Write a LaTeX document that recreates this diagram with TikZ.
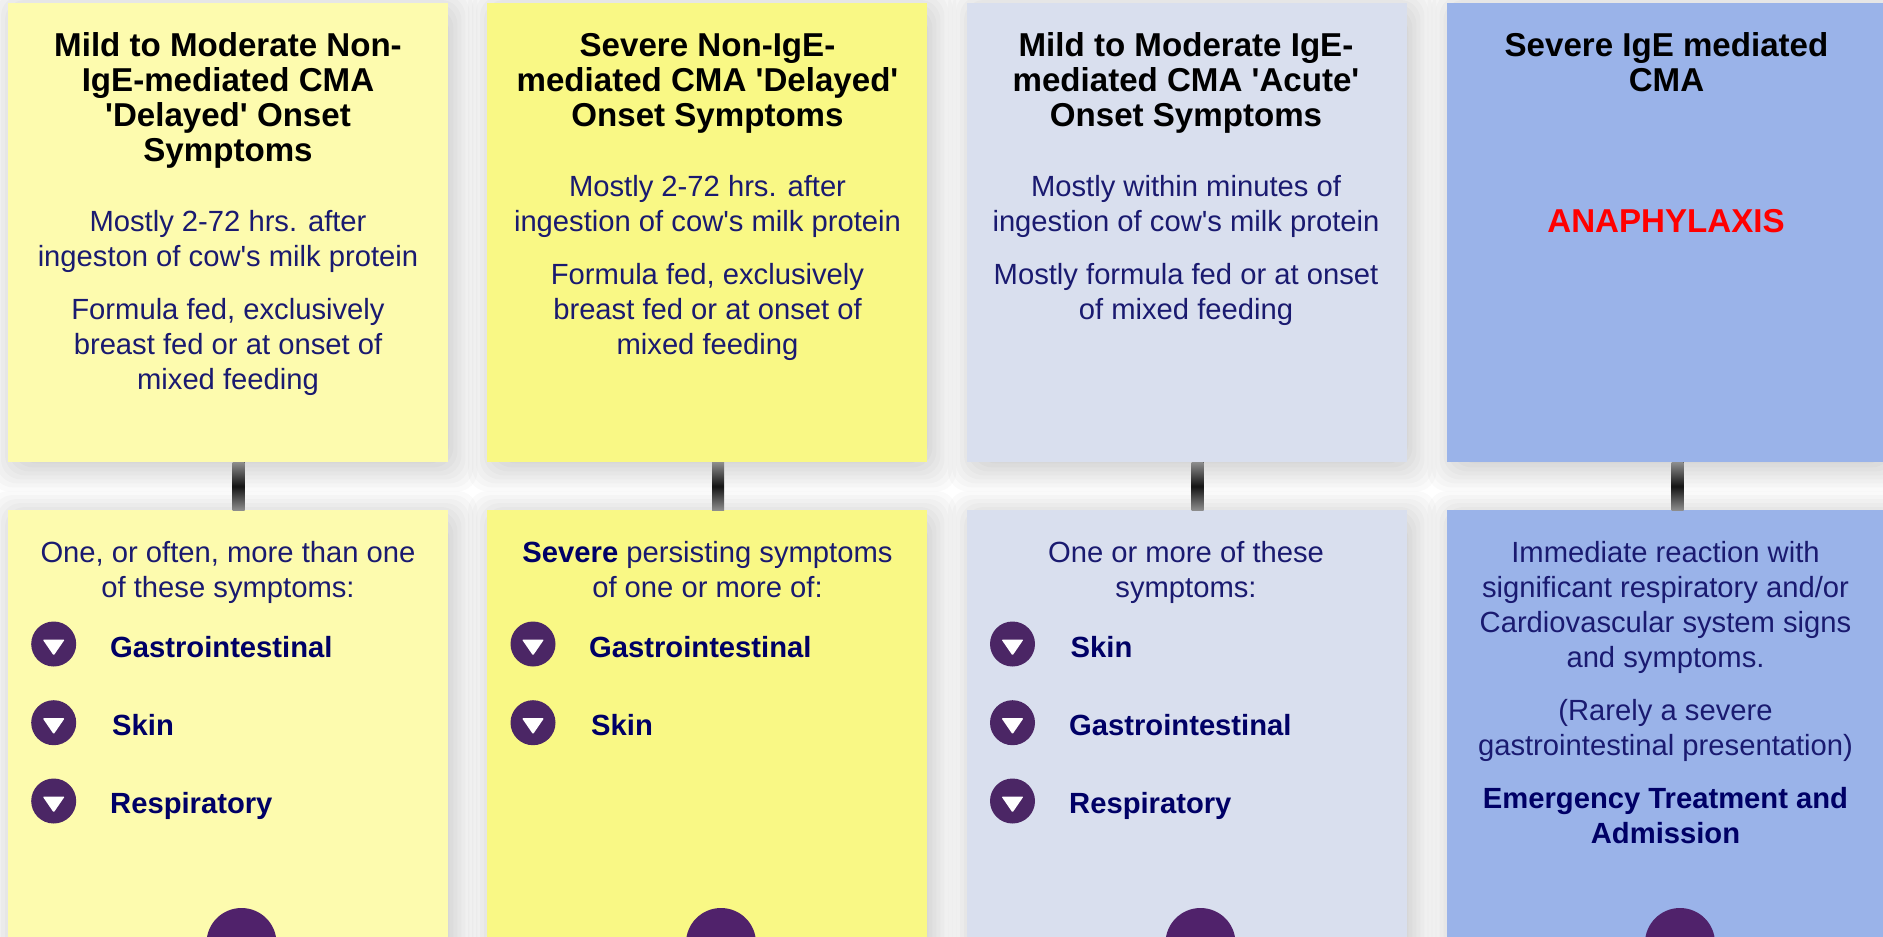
\documentclass[tikz,border=0pt]{standalone}
\usepackage{fontspec}
\newfontfamily\arialish{Liberation Sans}
\usetikzlibrary{calc,backgrounds}
\definecolor{cA}{HTML}{FDFBAE}
\definecolor{cB}{HTML}{F9F885}
\definecolor{cC}{HTML}{D9DFEE}
\definecolor{cD}{HTML}{9AB3E9}
\definecolor{bodytxt}{HTML}{1A1A70}
\definecolor{boldtxt}{HTML}{000066}
\definecolor{purp}{HTML}{4B2665}
\definecolor{bigpurp}{HTML}{50226B}
\tikzset{
 x=1pt,y=-1pt,
 panel/.style={draw=none,inner sep=0,minimum width=440pt,anchor=north west},
 upper/.style={panel,minimum height=459pt},
 lower/.style={panel,minimum height=480pt},
 title/.style={inner sep=0,anchor=north,align=center,text=black,font=\arialish\fontsize{33.1}{35}\selectfont\bfseries},
 body/.style={inner sep=0,anchor=north,align=center,text=bodytxt,font=\arialish\fontsize{29.2}{35.2}\selectfont},
 strong/.style={inner sep=0,anchor=north,align=center,text=boldtxt,font=\arialish\fontsize{29.2}{35.2}\selectfont\bfseries},
 item/.style={inner sep=0,anchor=west,text=boldtxt,font=\arialish\fontsize{29.2}{35.2}\selectfont\bfseries},
 bullet/.style={circle,fill=purp,inner sep=0,minimum size=45pt,
   path picture={\fill[white,rounded corners=1pt] ($(path picture bounding box.center)+(-11,-4.5)$) -- ++(22,0) -- ++(-11,16) -- cycle;}},
 bigdot/.style={circle,fill=bigpurp,inner sep=0,minimum size=70pt},
 link/.style={line width=12pt,draw=black!88},
}
\newcommand{\blockshadow}[1]{%
 \foreach \e in {-12,-8,...,24}{%
  \fill[black,opacity=.02,rounded corners=20pt]
   ($(#1.north west)+(5-\e,5-\e)$) rectangle ($(#1.south east)+(5+\e,5+\e)$);}}
\newcommand{\linkbar}[3]{%
 \draw[link] ($(#1.south west)+(#3,0)$) coordinate (t) -- ($(#2.north west)+(#3,0)$) coordinate (u);
 \shade[top color=black!45,bottom color=black!45,middle color=black!92] ($(t)+(-6,0)$) rectangle ($(u)+(6,0)$);}
\begin{document}
\begin{tikzpicture}
\useasboundingbox (0,0) rectangle (1883,937);
\clip (0,0) rectangle (1883,937);
% panels
\node[upper,fill=cA] (a1) at (8,3) {};
\node[upper,fill=cB] (a2) at (487,3) {};
\node[upper,fill=cC] (a3) at (967,3) {};
\node[upper,fill=cD] (a4) at (1446.5,3) {};
\node[lower,fill=cA] (b1) at (8,510) {};
\node[lower,fill=cB] (b2) at (487,510) {};
\node[lower,fill=cC] (b3) at (967,510) {};
\node[lower,fill=cD] (b4) at (1446.5,510) {};
\begin{scope}[on background layer]
\fill[white] (0,0) rectangle (1883,937);
\foreach \n in {a1,a2,a3,a4,b1,b2,b3,b4}{\blockshadow{\n}}
\end{scope}
% connectors
\linkbar{a1}{b1}{230.7}
\linkbar{a2}{b2}{231}
\linkbar{a3}{b3}{230.5}
\linkbar{a4}{b4}{231}
% column 1
\node[title] (t1) at (228,31.5) {\strut Mild to Moderate Non-\\IgE-mediated CMA\\'Delayed' Onset\\Symptoms};
\node[body] (s1) at (228,206.5) {\strut Mostly 2-72 hrs. after\\ingeston of cow's milk protein};
\node[body] (f1) at (228,294.5) {\strut Formula fed, exclusively\\breast fed or at onset of\\mixed feeding};
\node[body] (l1) at (228,537.5) {\strut One, or often, more than one\\of these symptoms:};
% column 2
\node[title] (t2) at (707.5,31.5) {\strut Severe Non-IgE-\\mediated CMA 'Delayed'\\Onset Symptoms};
\node[body] (s2) at (707.5,171.5) {\strut Mostly 2-72 hrs. after\\ingestion of cow's milk protein};
\node[body] (f2) at (707.5,259.5) {\strut Formula fed, exclusively\\breast fed or at onset of\\mixed feeding};
\node[body] (l2) at (707.5,537.5) {\strut \textcolor{boldtxt}{\bfseries Severe} persisting symptoms\\of one or more of:};
% column 3
\node[title] (t3) at (1186,31.5) {\strut Mild to Moderate IgE-\\mediated CMA 'Acute'\\Onset Symptoms};
\node[body] (s3) at (1186,171.5) {\strut Mostly within minutes of\\ingestion of cow's milk protein};
\node[body] (f3) at (1186,259.5) {\strut Mostly formula fed or at onset\\of mixed feeding};
\node[body] (l3) at (1186,537.5) {\strut One or more of these\\symptoms:};
% column 4
\node[title] (t4) at (1666.5,31.5) {\strut Severe IgE mediated\\CMA};
\node[title,text=red] (s4) at (1666,207.5) {\strut ANAPHYLAXIS};
\node[body] (l4) at (1665.5,537.5) {\strut Immediate reaction with\\significant respiratory and/or\\Cardiovascular system signs\\and symptoms.};
\node[body] (r4) at (1665.5,695.5) {\strut (Rarely a severe\\gastrointestinal presentation)};
\node[strong] (e4) at (1665.5,783.5) {\strut Emergency Treatment and\\Admission};
% bullets
\node[bullet] (p11) at (53.7,644) {};
\node[bullet] (p12) at (53.7,722.7) {};
\node[bullet] (p13) at (53.7,801) {};
\node[item] (i11) at (110,647) {Gastrointestinal};
\node[item] (i12) at (112,725.5) {Skin};
\node[item] (i13) at (110,806) {Respiratory};
\node[bullet] (p21) at (533,644) {};
\node[bullet] (p22) at (533,722.7) {};
\node[item] (i21) at (589,647) {Gastrointestinal};
\node[item] (i22) at (591,725.5) {Skin};
\node[bullet] (p31) at (1012.5,644) {};
\node[bullet] (p32) at (1012.5,722.7) {};
\node[bullet] (p33) at (1012.5,801) {};
\node[item] (i31) at (1070.5,647) {Skin};
\node[item] (i32) at (1069,725.5) {Gastrointestinal};
\node[item] (i33) at (1069,806) {Respiratory};
% bottom discs
\node[bigdot] (d1) at (241.5,943) {};
\node[bigdot] (d2) at (721,943) {};
\node[bigdot] (d3) at (1200.5,943) {};
\node[bigdot] (d4) at (1680,943) {};
\end{tikzpicture}
\end{document}
